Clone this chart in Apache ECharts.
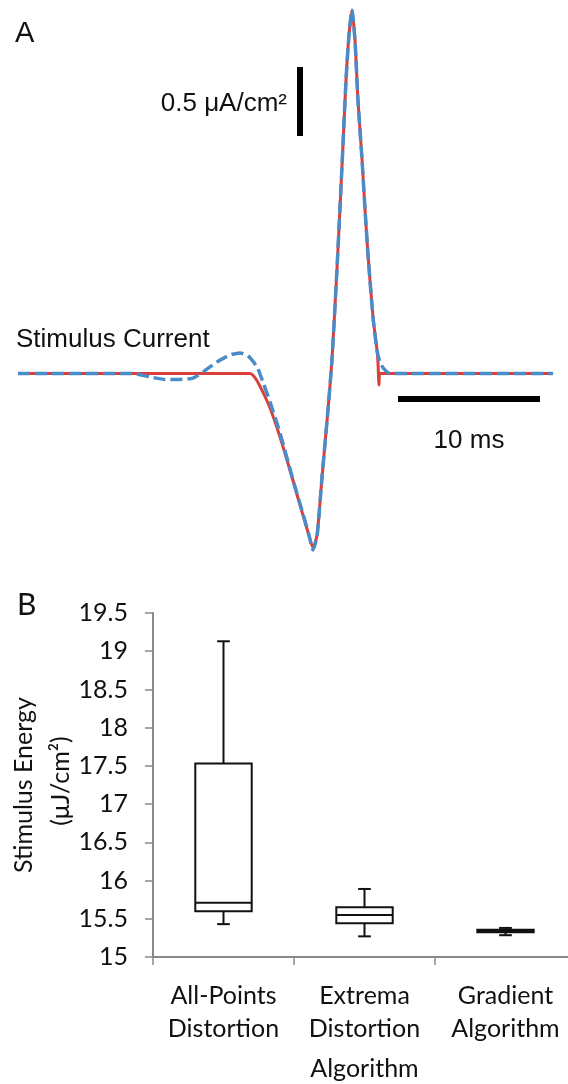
<!DOCTYPE html>
<html><head><meta charset="utf-8">
<script src="https://cdn.jsdelivr.net/npm/echarts@6/dist/echarts.min.js"></script>
<style>html,body{margin:0;padding:0;background:#fff}#c{width:568px;height:1084px}</style>
</head><body><div id="c"></div>
<script>
// ---------- Panel A: stimulus current waveforms (time in ms, current in μA/cm²) ----------
const redCurve = [
  [0, 0], [16.34, 0], [16.76, -0.040], [17.18, -0.120], [17.75, -0.250], [18.45, -0.460],
  [19.15, -0.699], [19.86, -0.953], [20.42, -1.149], [20.77, -1.264], [21.06, -1.170],
  [21.41, -0.750], [21.83, -0.264], [22.11, 0.098], [22.46, 0.750], [22.82, 1.511],
  [23.10, 2.127], [23.31, 2.453], [23.52, 2.634], [23.73, 2.417], [23.94, 1.982],
  [24.23, 1.547], [24.44, 1.185], [24.65, 0.859], [25.0, 0.409], [25.28, 0.170],
  [25.35, 0.083], [25.42, -0.083], [25.49, 0], [37.68, 0]
];
const blueCurve = [
  [0, 0], [8.10, 0], [9.30, -0.025], [10.35, -0.043], [11.41, -0.043], [12.32, -0.033],
  [13.03, 0.011], [14.01, 0.083], [14.93, 0.134], [15.63, 0.149], [16.20, 0.127],
  [16.83, 0.047], [17.25, -0.062], [17.75, -0.207], [18.45, -0.431], [19.37, -0.772],
  [20.07, -1.018], [20.49, -1.170], [20.77, -1.279], [21.06, -1.178], [21.41, -0.750],
  [21.83, -0.264], [22.11, 0.098], [22.46, 0.750], [22.82, 1.511], [23.10, 2.127],
  [23.31, 2.453], [23.52, 2.634], [23.73, 2.417], [23.94, 1.982], [24.23, 1.547],
  [24.44, 1.185], [24.65, 0.859], [25.0, 0.409], [25.28, 0.170], [25.49, 0.083],
  [25.77, 0.033], [26.20, 0], [37.68, 0]
];
const scaleBarV = [[19.86, 1.721], [19.86, 2.221]];   // 0.5 μA/cm²
const scaleBarH = [[26.76, -0.185], [36.76, -0.185]]; // 10 ms

// ---------- Panel B: stimulus energy box plots ----------
const categories = ['All-Points\nDistortion', 'Extrema\nDistortion', 'Gradient\nAlgorithm'];
const boxMin    = [15.43, 15.27, 15.285];
const boxQ1     = [15.60, 15.44, 15.325];
const boxMedian = [15.71, 15.55, 15.34];
const boxQ3     = [17.53, 15.65, 15.355];
const boxMax    = [19.13, 15.89, 15.38];
const yMin = 15, yMax = 19.5, yInterval = 0.5;
const yNameLines = ['Stimulus Energy', '(μJ/cm²)'];

const boxData = categories.map((c, i) => [i, boxMin[i], boxQ1[i], boxMedian[i], boxQ3[i], boxMax[i]]);

function renderBox(params, api) {
  const c = api.value(0);
  const vMin = api.value(1), q1 = api.value(2), med = api.value(3), q3 = api.value(4), vMax = api.value(5);
  const x = api.coord([c, med])[0];
  const band = api.size([1, 0])[0];
  const bw = band * 0.4, cw = band * 0.09;
  const y = v => api.coord([c, v])[1];
  const st = { stroke: '#111', lineWidth: 2, fill: null };
  return {
    type: 'group',
    children: [
      { type: 'line', shape: { x1: x, y1: y(vMax), x2: x, y2: y(q3) }, style: st },
      { type: 'line', shape: { x1: x, y1: y(q1), x2: x, y2: y(vMin) }, style: st },
      { type: 'line', shape: { x1: x - cw / 2, y1: y(vMax), x2: x + cw / 2, y2: y(vMax) }, style: st },
      { type: 'line', shape: { x1: x - cw / 2, y1: y(vMin), x2: x + cw / 2, y2: y(vMin) }, style: st },
      { type: 'rect', shape: { x: x - bw / 2, y: y(q3), width: bw, height: y(q1) - y(q3) },
        style: { stroke: '#111', lineWidth: 2, fill: '#fff' } },
      { type: 'line', shape: { x1: x - bw / 2, y1: y(med), x2: x + bw / 2, y2: y(med) }, style: st }
    ]
  };
}

const chart = echarts.init(document.getElementById('c'), null, { renderer: 'canvas' });
const fA = 'Liberation Sans, Arial, sans-serif';
const fB = 'Lato, sans-serif';
const txt = '#111';

chart.setOption({
  animation: false,
  backgroundColor: '#fff',
  grid: [
    { left: 18, top: 0.9, width: 568, height: 565.8, outerBoundsMode: 'none', containLabel: false },
    { left: 153, top: 613, width: 423, height: 344, outerBoundsMode: 'none', containLabel: false }
  ],
  xAxis: [
    { gridIndex: 0, type: 'value', min: 0, max: 40, show: false },
    {
      gridIndex: 1, type: 'category', data: categories,
      name: 'Algorithm', nameLocation: 'middle', nameGap: 99,
      nameTextStyle: { fontFamily: fB, fontSize: 25, color: txt },
      axisLine: { lineStyle: { color: '#8a8a8a', width: 2 } },
      axisTick: { show: true, length: 8, lineStyle: { color: '#8a8a8a', width: 1.5 } },
      axisLabel: { interval: 0, fontFamily: fB, fontSize: 25, lineHeight: 33, color: txt, margin: 22 }
    }
  ],
  yAxis: [
    { gridIndex: 0, type: 'value', min: -1.4, max: 2.7, show: false },
    {
      gridIndex: 1, type: 'value', min: yMin, max: yMax, interval: yInterval,
      axisLine: { show: true, lineStyle: { color: '#8a8a8a', width: 2 } },
      axisTick: { show: true, length: 8, lineStyle: { color: '#8a8a8a', width: 1.5 } },
      splitLine: { show: false },
      axisLabel: { fontFamily: fB, fontSize: 25, color: txt, margin: 25 }
    }
  ],
  series: [
    { type: 'line', xAxisIndex: 0, yAxisIndex: 0, data: redCurve, showSymbol: false, smooth: 0.2,
      lineStyle: { color: '#dc3f3a', width: 3 }, z: 2 },
    { type: 'line', xAxisIndex: 0, yAxisIndex: 0, data: blueCurve, showSymbol: false, smooth: 0.2,
      lineStyle: { color: '#4a8bca', width: 3.5, type: [12, 5] }, z: 3 },
    { type: 'line', xAxisIndex: 0, yAxisIndex: 0, data: scaleBarV, showSymbol: false,
      lineStyle: { color: '#000', width: 6, cap: 'butt' }, z: 4 },
    { type: 'line', xAxisIndex: 0, yAxisIndex: 0, data: scaleBarH, showSymbol: false,
      lineStyle: { color: '#000', width: 6, cap: 'butt' }, z: 4 },
    { type: 'custom', xAxisIndex: 1, yAxisIndex: 1, data: boxData, renderItem: renderBox,
      encode: { x: 0, y: [1, 2, 3, 4, 5] }, z: 5 }
  ],
  graphic: [
    { type: 'text', x: 15, y: 34, style: { text: 'A', font: '29px ' + fA, fill: txt, textVerticalAlign: 'middle' } },
    { type: 'text', x: 287, y: 104, style: { text: '0.5 μA/cm²', font: '26px ' + fA, fill: txt, textAlign: 'right', textVerticalAlign: 'middle' } },
    { type: 'text', x: 16, y: 340, style: { text: 'Stimulus Current', font: '26px ' + fA, fill: txt, textVerticalAlign: 'middle' } },
    { type: 'text', x: 469, y: 441, style: { text: '10 ms', font: '26px ' + fA, fill: txt, textAlign: 'center', textVerticalAlign: 'middle' } },
    { type: 'text', x: 17, y: 605, style: { text: 'B', font: '30px ' + fB, fill: txt, textVerticalAlign: 'middle' } },
    { type: 'text', x: 24, y: 785, rotation: Math.PI / 2,
      style: { text: yNameLines[0], font: '25px ' + fB, fill: txt, textAlign: 'center', textVerticalAlign: 'middle' } },
    { type: 'text', x: 61, y: 781, rotation: Math.PI / 2,
      style: { text: yNameLines[1], font: '25px ' + fB, fill: txt, textAlign: 'center', textVerticalAlign: 'middle' } }
  ]
});
</script>
</body></html>
